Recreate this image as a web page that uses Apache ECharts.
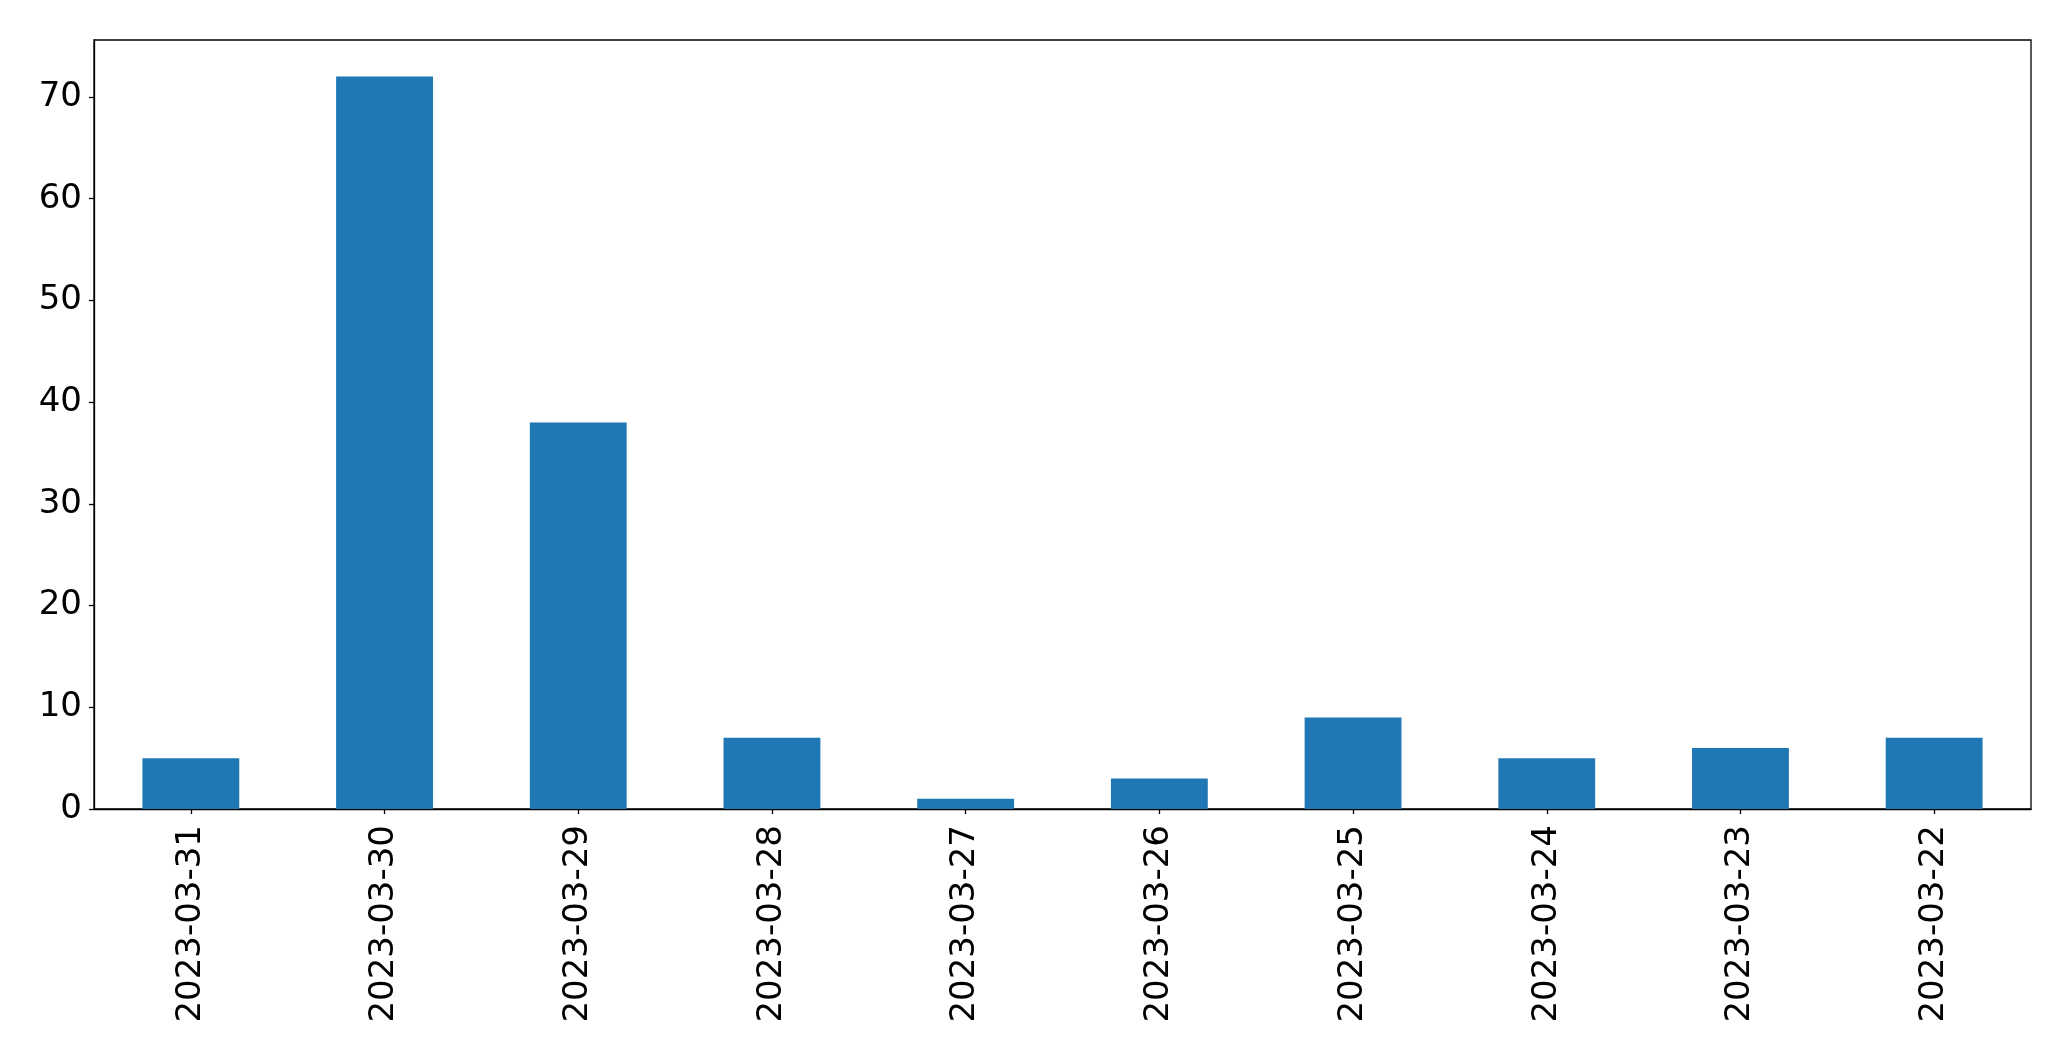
<!DOCTYPE html>
<html>
<head>
<meta charset="utf-8">
<script src="https://cdn.jsdelivr.net/npm/echarts@6/dist/echarts.min.js"></script>
<style>html,body{margin:0;padding:0;background:#fff;}#c{width:2071px;height:1061px;}</style>
</head>
<body>
<div id="c"></div>
<script>
const categories = ['2023-03-31','2023-03-30','2023-03-29','2023-03-28','2023-03-27','2023-03-26','2023-03-25','2023-03-24','2023-03-23','2023-03-22'];
const values = [5, 72, 38, 7, 1, 3, 9, 5, 6, 7];
const yTicks = [0, 10, 20, 30, 40, 50, 60, 70];
const yMax = 75.6;

const chart = echarts.init(document.getElementById('c'), null, {renderer: 'canvas'});
chart.setOption({
  animation: false,
  backgroundColor: '#ffffff',
  grid: {left: 94, right: 40, top: 40, bottom: 252, show: true, borderColor: '#000', borderWidth: 1.3, backgroundColor: 'transparent'},
  xAxis: {
    type: 'category',
    data: categories,
    boundaryGap: true,
    axisLine: {show: true, lineStyle: {color: '#000', width: 1.3}},
    axisTick: {show: true, alignWithLabel: true, length: 5, lineStyle: {color: '#000', width: 1.3}},
    axisLabel: {rotate: 90, margin: 16, fontSize: 34, color: '#000', fontFamily: 'DejaVu Sans', interval: 0},
    splitLine: {show: false}
  },
  yAxis: {
    type: 'value',
    min: 0,
    max: yMax,
    interval: 10,
    axisLine: {show: true, lineStyle: {color: '#000', width: 1.3}},
    axisTick: {show: true, length: 5, lineStyle: {color: '#000', width: 1.3}, customValues: yTicks},
    axisLabel: {fontSize: 34, color: '#000', fontFamily: 'DejaVu Sans', margin: 12, customValues: yTicks},
    splitLine: {show: false}
  },
  series: [{
    type: 'bar',
    data: values,
    barWidth: '50%',
    itemStyle: {color: '#1f77b4'}
  }]
});
</script>
</body>
</html>
